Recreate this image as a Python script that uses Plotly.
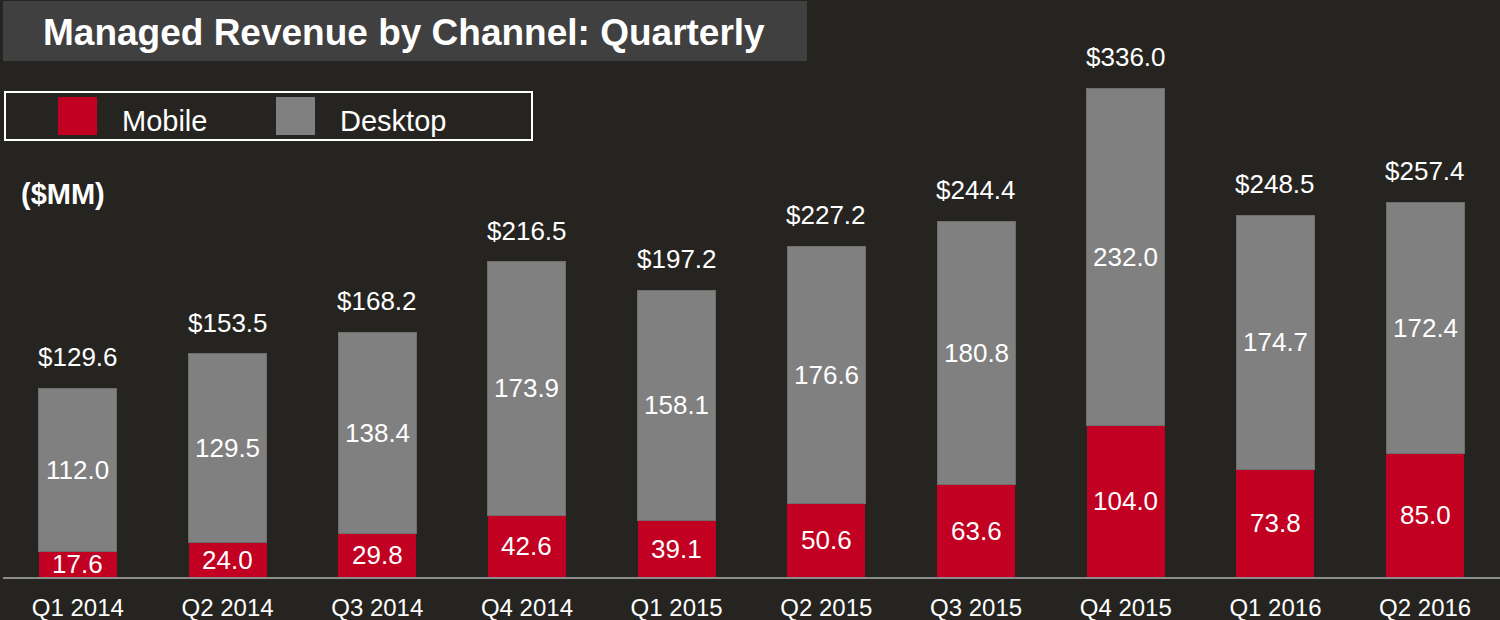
import plotly.graph_objects as go

quarters = ["Q1 2014", "Q2 2014", "Q3 2014", "Q4 2014", "Q1 2015",
            "Q2 2015", "Q3 2015", "Q4 2015", "Q1 2016", "Q2 2016"]
mobile = [17.6, 24.0, 29.8, 42.6, 39.1, 50.6, 63.6, 104.0, 73.8, 85.0]
desktop = [112.0, 129.5, 138.4, 173.9, 158.1, 176.6, 180.8, 232.0, 174.7, 172.4]
totals = [129.6, 153.5, 168.2, 216.5, 197.2, 227.2, 244.4, 336.0, 248.5, 257.4]

W, H = 1500, 620
ML, MR, MT, MB = 3, 0, 40, 43
PW, PH = W - ML - MR, H - MT - MB
YMAX = 369.0

def px(x):
    return (x - ML) / PW

def py(y):
    return (H - MB - y) / PH

BG = "#262420"
RED = "#c10022"
GREY = "#808080"
FONT = "Liberation Sans, Arial, sans-serif"
LBL = 26

fig = go.Figure()
fig.add_trace(go.Bar(x=quarters, y=mobile, name="Mobile", marker=dict(color=RED, line=dict(width=0))))
fig.add_trace(go.Bar(x=quarters, y=desktop, name="Desktop",
                     marker=dict(color=GREY, line=dict(color="#6e6e6e", width=1))))

ann = []
for q, m, d, t in zip(quarters, mobile, desktop, totals):
    ann.append(dict(x=q, y=m / 2, text=f"{m:.1f}", showarrow=False,
                    font=dict(size=LBL, color="white", family=FONT), xref="x", yref="y"))
    ann.append(dict(x=q, y=m + d / 2, text=f"{d:.1f}", showarrow=False,
                    font=dict(size=LBL, color="white", family=FONT), xref="x", yref="y"))
    ann.append(dict(x=q, y=t, text=f"${t:.1f}", showarrow=False, yshift=31,
                    font=dict(size=LBL, color="white", family=FONT), xref="x", yref="y"))

# title
ann.append(dict(x=px(404), y=py(32), xref="paper", yref="paper", text="<b>Managed Revenue by Channel: Quarterly</b>",
                showarrow=False, font=dict(size=37, color="white", family=FONT), xanchor="center", yanchor="middle"))
# unit
ann.append(dict(x=px(19), y=py(194), xref="paper", yref="paper", text="<b>($MM)</b>",
                showarrow=False, font=dict(size=29, color="white", family=FONT), xanchor="left", yanchor="middle"))
# legend text
ann.append(dict(x=px(120), y=py(121), xref="paper", yref="paper", text="Mobile",
                showarrow=False, font=dict(size=29, color="white", family=FONT), xanchor="left", yanchor="middle"))
ann.append(dict(x=px(338), y=py(121), xref="paper", yref="paper", text="Desktop",
                showarrow=False, font=dict(size=29, color="white", family=FONT), xanchor="left", yanchor="middle"))

shapes = [
    dict(type="rect", xref="paper", yref="paper", x0=px(3), x1=px(807), y0=py(1), y1=py(61),
         fillcolor="#404040", line=dict(width=0), layer="below"),
    dict(type="rect", xref="paper", yref="paper", x0=px(5), x1=px(532), y0=py(92), y1=py(140),
         fillcolor="rgba(0,0,0,0)", line=dict(color="white", width=2)),
    dict(type="rect", xref="paper", yref="paper", x0=px(58), x1=px(97), y0=py(97), y1=py(135),
         fillcolor=RED, line=dict(width=0)),
    dict(type="rect", xref="paper", yref="paper", x0=px(276), x1=px(315), y0=py(97), y1=py(135),
         fillcolor=GREY, line=dict(width=0)),
]

fig.update_layout(
    width=W, height=H, barmode="stack", bargap=0.479,
    paper_bgcolor=BG, plot_bgcolor=BG, showlegend=False,
    margin=dict(l=ML, r=MR, t=MT, b=MB, pad=0),
    annotations=ann, shapes=shapes,
    xaxis=dict(range=[-0.5, 9.5], showgrid=False, zeroline=False, showline=True,
               linecolor="#8c8c8c", linewidth=2, ticks="", ticklabelstandoff=8,
               tickfont=dict(size=24, color="white", family=FONT)),
    yaxis=dict(range=[0, YMAX], visible=False, showgrid=False, zeroline=False),
)

fig.write_html("out.html", config={"displayModeBar": False},
               post_script="document.body.style.margin='0';document.body.style.background='#262420';")
